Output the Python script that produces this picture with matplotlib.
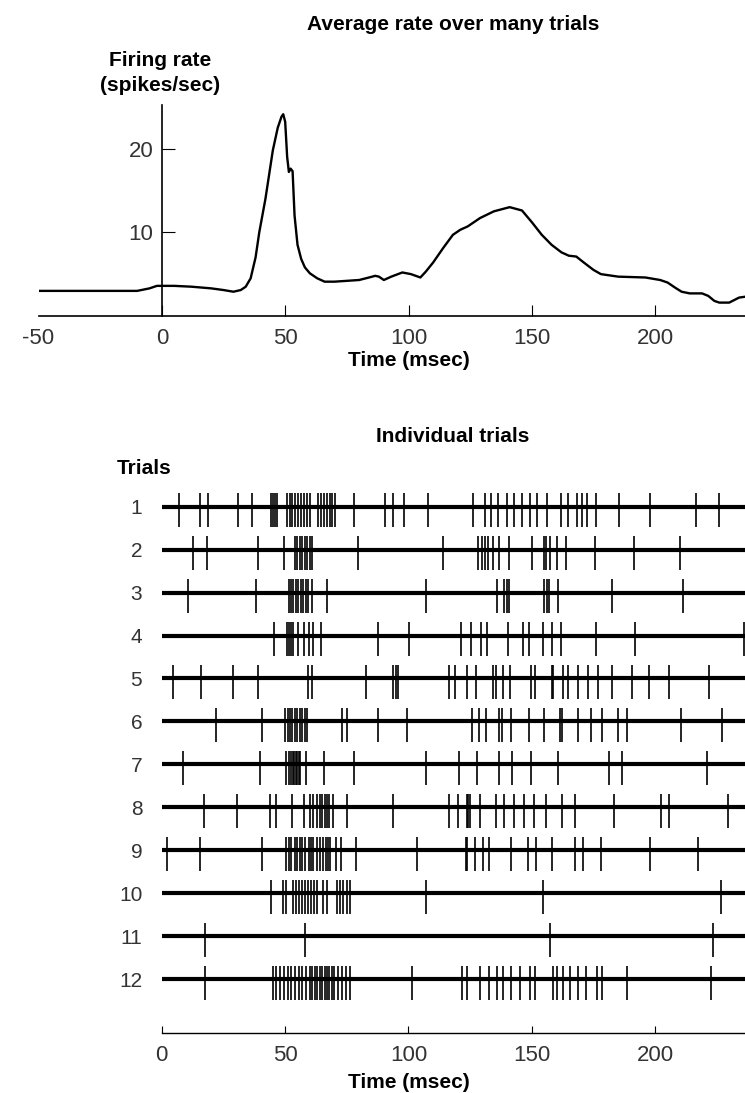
import numpy as np
import matplotlib.pyplot as plt

# average firing rate
time_ms = [-50, -10, -5, -2, 5, 12, 20, 25, 29, 32, 34, 36, 38, 39.5, 42, 45, 47,
           48.5, 49.2, 50, 50.8, 51.5, 52.2, 53, 53.8, 55, 56.5, 58, 60, 63, 66, 70,
           75, 80, 84, 86.5, 88, 90, 93, 97.5, 101, 104.8, 107, 110, 114, 118, 121,
           124, 129, 134.6, 141, 146, 150, 154, 158, 162, 165, 168, 171, 175, 178,
           185, 196, 202, 205, 208, 210.7, 214, 219, 221.5, 224, 226, 230, 232, 234,
           236.4]
rate = [3.0, 3.0, 3.3, 3.6, 3.6, 3.5, 3.3, 3.1, 2.9, 3.1, 3.5, 4.5, 7.0, 10.0, 14.0,
        19.8, 22.5, 23.8, 24.1, 23.2, 19.0, 17.2, 17.6, 17.3, 12.0, 8.5, 6.8, 5.8,
        5.1, 4.5, 4.1, 4.1, 4.2, 4.3, 4.6, 4.8, 4.7, 4.3, 4.7, 5.2, 5.0, 4.6, 5.3,
        6.4, 8.1, 9.7, 10.3, 10.7, 11.7, 12.5, 13.0, 12.6, 11.2, 9.7, 8.5, 7.6, 7.2,
        7.1, 6.4, 5.5, 5.0, 4.7, 4.6, 4.3, 4.0, 3.4, 2.9, 2.7, 2.7, 2.4, 1.8, 1.6,
        1.6, 1.9, 2.2, 2.3]

# spike times per trial (msec)
trial_1 = [7.0, 15.5, 18.6, 31.1, 36.7, 44.2, 45.0, 45.8, 46.6, 50.7, 51.8, 53.0,
           54.2, 55.3, 56.5, 57.6, 58.8, 60.0, 63.5, 64.7, 65.9, 67.0, 68.1, 69.2,
           70.2, 78.1, 90.5, 93.9, 98.2, 108.1, 126.3, 131.1, 133.4, 136.1, 140.1,
           142.8, 146.2, 149.3, 152.3, 156.1, 161.7, 164.6, 168.2, 170.2, 172.3,
           176.0, 185.4, 197.7, 216.5, 225.9]
trial_2 = [12.8, 18.5, 38.9, 49.7, 54.0, 55.0, 56.0, 57.0, 58.0, 59.0, 60.0, 61.0,
           79.7, 114.2, 128.3, 129.7, 131.1, 132.4, 134.4, 136.7, 140.9, 150.2,
           154.9, 155.6, 157.4, 160.1, 163.8, 175.6, 191.6, 210.1]
trial_3 = [10.8, 38.2, 51.4, 52.4, 53.4, 54.4, 55.4, 56.4, 57.4, 58.4, 59.4, 61.0,
           66.9, 107.0, 135.8, 138.9, 139.8, 140.9, 155.1, 156.1, 157.0, 160.8,
           182.6, 211.4]
trial_4 = [45.6, 50.7, 51.5, 52.3, 53.3, 55.4, 57.7, 59.8, 61.5, 64.6, 87.8, 100.4,
           121.3, 125.2, 129.4, 132.0, 140.5, 146.3, 149.0, 154.7, 158.1, 161.9,
           175.9, 192.0, 236.0]
trial_5 = [4.4, 15.9, 28.8, 39.2, 59.4, 60.8, 82.8, 93.9, 94.9, 95.9, 116.5, 118.9,
           123.9, 127.4, 134.4, 135.4, 138.5, 141.2, 149.7, 151.3, 158.1, 158.5,
           162.8, 164.8, 168.9, 172.7, 176.7, 182.4, 190.5, 197.5, 205.8, 222.0]
trial_6 = [21.9, 40.8, 50.0, 51.0, 52.0, 53.0, 54.0, 55.0, 56.0, 57.0, 58.0, 58.8,
           73.0, 75.2, 87.8, 99.6, 125.7, 128.6, 131.5, 136.7, 138.1, 141.6, 149.0,
           155.1, 161.5, 162.4, 168.6, 174.0, 178.4, 184.8, 188.5, 210.5, 227.0]
trial_7 = [8.8, 39.8, 50.5, 51.5, 52.5, 53.2, 53.8, 54.4, 55.0, 55.6, 56.1, 58.4,
           65.8, 77.9, 107.1, 120.5, 127.7, 136.8, 142.1, 149.6, 160.8, 181.4,
           186.5, 221.2]
trial_8 = [17.3, 30.6, 43.9, 46.2, 52.9, 57.7, 60.0, 61.5, 63.0, 64.0, 65.0, 66.0,
           67.0, 68.0, 69.5, 75.0, 93.6, 116.6, 120.2, 123.7, 124.3, 125.0, 129.0,
           135.4, 138.7, 142.8, 146.9, 151.0, 155.6, 162.4, 167.3, 183.3, 202.2,
           205.8, 229.7]
trial_9 = [2.3, 15.5, 40.8, 50.3, 51.5, 52.5, 54.0, 55.0, 56.0, 57.0, 58.0, 59.5,
           60.5, 61.5, 63.0, 64.0, 65.5, 66.5, 67.5, 68.2, 70.7, 72.6, 78.8, 103.6,
           123.2, 123.9, 127.0, 130.4, 132.8, 141.5, 148.6, 151.7, 158.1, 167.3,
           170.9, 178.1, 197.9, 217.5]
trial_10 = [44.3, 49.0, 50.4, 53.3, 54.5, 55.7, 57.0, 58.2, 59.4, 60.6, 61.8, 62.8,
            65.5, 66.9, 70.9, 72.2, 73.6, 75.0, 76.3, 107.1, 154.4, 226.6]
trial_11 = [17.5, 58.0, 157.5, 223.5]
trial_12 = [17.6, 45.0, 46.5, 48.0, 49.5, 51.0, 52.5, 54.0, 55.5, 57.0, 58.5, 60.0,
            61.0, 62.0, 63.0, 64.0, 65.0, 66.0, 67.0, 68.0, 69.0, 70.0, 71.5, 73.0,
            74.5, 76.5, 101.6, 121.7, 123.8, 129.2, 132.5, 135.8, 138.5, 141.5,
            145.2, 149.3, 151.3, 158.5, 160.4, 162.8, 165.5, 168.9, 172.0, 176.3,
            178.4, 188.7, 222.5]

trials = [trial_1, trial_2, trial_3, trial_4, trial_5, trial_6,
          trial_7, trial_8, trial_9, trial_10, trial_11, trial_12]
trial_labels = [str(i) for i in range(1, 13)]
x_ticks_top = [-50, 0, 50, 100, 150, 200]
x_ticks_bottom = [0, 50, 100, 150, 200]
y_ticks_top = [10, 20]

plt.rcParams['font.family'] = ['Liberation Sans', 'DejaVu Sans']

W, H = 745, 1093
fig = plt.figure(figsize=(W / 100, H / 100), dpi=100)


def box(x0, y0, x1, y1):
    # pixel box -> figure fraction
    return [x0 / W, 1 - y1 / H, (x1 - x0) / W, (y1 - y0) / H]


bold = dict(fontsize=15, fontweight='bold', color='k')
tick_col = '#333333'

# ---- top panel: average rate
ax1 = fig.add_axes(box(38.5, 105, 745, 316))
ax1.plot(time_ms, rate, color='k', lw=1.7)
ax1.set_xlim(-50, 236.4)
ax1.set_ylim(0, 25.2)
for s in ['top', 'right']:
    ax1.spines[s].set_visible(False)
ax1.spines['left'].set_position(('data', 0))
ax1.spines['left'].set_linewidth(1.2)
ax1.spines['bottom'].set_linewidth(1.2)
ax1.set_xticks(x_ticks_top)
ax1.set_xticklabels(['-50', '0', '50', '100', '150', '200'])
ax1.set_yticks(y_ticks_top)
ax1.tick_params(axis='x', direction='in', length=8, width=0.8, pad=9,
                labelsize=16, labelcolor=tick_col)
ax1.tick_params(axis='y', direction='in', length=9, width=0.8, pad=6,
                labelsize=16, labelcolor=tick_col)
ax1.xaxis.get_major_ticks()[0].tick1line.set_visible(False)

fig.text(453 / W, 1 - 25 / H, 'Average rate over many trials', ha='center', va='center', **bold)
fig.text(160 / W, 1 - 73 / H, 'Firing rate\n(spikes/sec)', ha='center', va='center',
         linespacing=1.35, **bold)
fig.text(409 / W, 1 - 361 / H, 'Time (msec)', ha='center', va='center', **bold)

# ---- bottom panel: raster
ax2 = fig.add_axes(box(161.7, 470, 745, 1032.7))
rows = np.arange(1, 13)
for r in rows:
    ax2.axhline(r, color='k', lw=3.0)
ax2.eventplot(trials, lineoffsets=rows + 0.075, linelengths=0.79,
              colors='k', linewidths=1.2)
ax2.set_xlim(0, 236.4)
ax2.set_ylim(13.24, 0.15)
for s in ['top', 'right', 'left']:
    ax2.spines[s].set_visible(False)
ax2.spines['bottom'].set_linewidth(1.0)
ax2.set_yticks(rows)
ax2.set_yticklabels(trial_labels)
ax2.set_xticks(x_ticks_bottom)
ax2.tick_params(axis='y', length=0, pad=14, labelsize=15, labelcolor=tick_col)
ax2.tick_params(axis='x', direction='in', length=5, width=0.8, pad=9,
                labelsize=16, labelcolor=tick_col)

fig.text(453 / W, 1 - 437 / H, 'Individual trials', ha='center', va='center', **bold)
fig.text(117 / W, 1 - 468 / H, 'Trials', ha='left', va='center', **bold)
fig.text(409 / W, 1 - 1082 / H, 'Time (msec)', ha='center', va='center', **bold)

fig.savefig('out.png', dpi=100)
